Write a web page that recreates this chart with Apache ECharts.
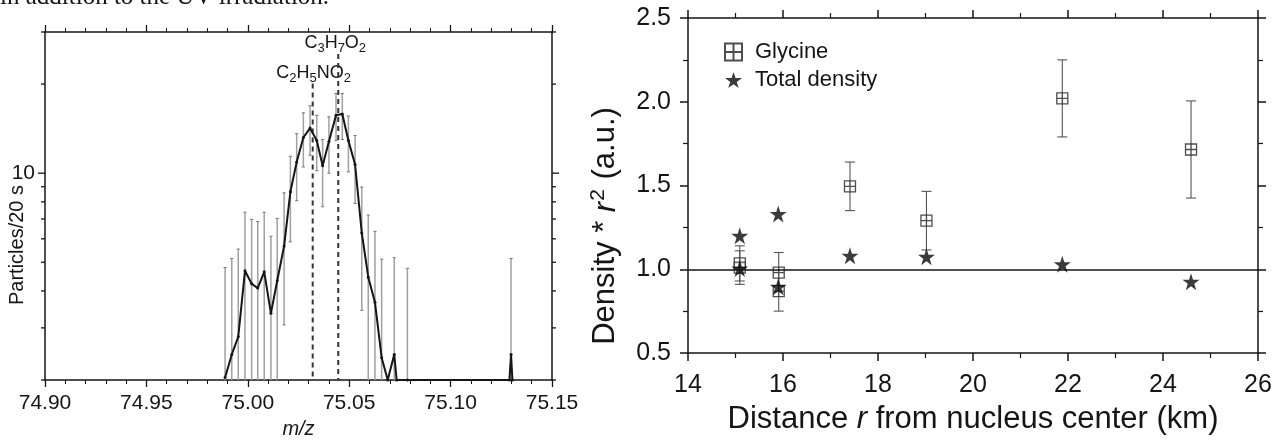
<!DOCTYPE html>
<html><head><meta charset="utf-8">
<script src="https://cdn.jsdelivr.net/npm/echarts@6/dist/echarts.min.js"></script>
<style>html,body{margin:0;padding:0;background:#fff}#c{width:1285px;height:444px}</style>
</head><body><div id="c"></div>
<script>
// ---------- Left panel: mass spectrum around m/z 75 ----------
const mzValues = [74.9888, 74.9921, 74.9953, 74.9986, 75.0019, 75.0049, 75.0081, 75.0114, 75.0145, 75.0179,
  75.0210, 75.0241, 75.0274, 75.0307, 75.0340, 75.0369, 75.0400, 75.0435, 75.0466, 75.0496,
  75.0529, 75.0562, 75.0594, 75.0627, 75.0660, 75.0690, 75.0722, 75.0734, 75.0787, 75.1290, 75.1298, 75.1305];
const counts = [2.04, 2.44, 2.80, 4.68, 4.23, 4.09, 4.64, 3.36, 4.33, 5.67,
  8.65, 10.9, 13.2, 14.2, 12.9, 10.6, 12.8, 15.7, 15.85, 12.9,
  10.7, 6.28, 4.45, 3.66, 2.38, 2.0, 2.44, 2.0, 2.0, 2.0, 2.44, 2.0];
const errLow = [2, 2, 2, 2, 2, 2, 2, 2, 2, 3.07,
  5.86, 8.07, 10.5, 11.5, 10.2, 7.7, 10.0, 12.9, 13.0, 10.1,
  7.9, 3.44, 2, 2, 2, null, 2, null, 2, null, 2, null];
const errHigh = [4.80, 5.15, 5.54, 7.38, 6.98, 6.87, 7.38, 6.12, 7.03, 8.58,
  11.4, 13.6, 16.0, 16.9, 15.7, 13.0, 15.5, 18.6, 18.6, 15.6,
  13.4, 8.98, 7.22, 6.36, 5.12, null, 5.18, null, 4.77, null, 5.15, null];
const refMasses = [75.0320, 75.0446];
const refTops = [20.1, 25.3];
const refLabels = ['C{s|2}H{s|5}NO{s|2}', 'C{s|3}H{s|7}O{s|2}'];
const logTickValues = [2, 3, 4, 5, 6, 7, 8, 9, 10, 20, 30];

// ---------- Right panel: density * r^2 vs distance ----------
const glyDistance = [15.09, 15.09, 15.91, 15.91, 17.41, 19.02, 21.88, 24.59];
const glycine = [1.035, 1.01, 0.98, 0.87, 1.495, 1.29, 2.02, 1.715];
const glycineErr = [0.105, 0.10, 0.12, 0.12, 0.145, 0.175, 0.23, 0.29];
const totDistance = [15.09, 15.09, 15.90, 15.90, 17.41, 19.02, 21.88, 24.59];
const totalDensity = [1.20, 1.005, 1.33, 0.895, 1.08, 1.075, 1.03, 0.925];

const ink = '#151515';
const FONT = 'Liberation Sans';
const axLine = {show: true, onZero: false, lineStyle: {color: ink, width: 1.5}};
const starPath = 'path://M0,-100L22.5,-30.9L95.1,-30.9L36.3,11.8L58.8,80.9L0,38.2L-58.8,80.9L-36.3,11.8L-95.1,-30.9L-22.5,-30.9Z';
const boxPath = 'path://M0,0L20,0L20,20L0,20Z M10,0L10,20 M0,10L20,10';

function leftX(pos, showLabel) {
  return {
    gridIndex: 0, type: 'value', position: pos, min: 74.90, max: 75.15, interval: 0.05,
    axisLine: axLine, splitLine: {show: false},
    axisTick: {show: true, length: 7, lineStyle: {color: ink, width: 1.3}},
    minorTick: {show: true, splitNumber: 5, length: 4, lineStyle: {color: ink, width: 1}},
    axisLabel: {show: showLabel, formatter: v => v.toFixed(2), fontSize: 21, color: ink, fontFamily: FONT, margin: 13},
    name: showLabel ? 'm/z' : '', nameLocation: 'middle', nameGap: 39,
    nameTextStyle: {fontSize: 20, fontStyle: 'italic', color: ink, fontFamily: FONT}
  };
}
function leftY(pos, showLabel) {
  return {
    gridIndex: 0, type: 'log', logBase: 10, position: pos, min: 2, max: 30,
    axisLine: axLine, splitLine: {show: false}, axisTick: {show: false}, minorTick: {show: false},
    axisLabel: {show: showLabel, formatter: v => (Math.abs(v - 10) < 1e-6 ? '10' : ''), fontSize: 21, color: ink, fontFamily: FONT, margin: 10}
  };
}
function rightX(pos, showLabel) {
  return {
    gridIndex: 1, type: 'value', position: pos, min: 14, max: 26, interval: 2,
    axisLine: axLine, splitLine: {show: false},
    axisTick: {show: true, length: 8, lineStyle: {color: ink, width: 1.5}},
    minorTick: {show: true, splitNumber: 2, length: 5, lineStyle: {color: ink, width: 1.2}},
    axisLabel: {show: showLabel, fontSize: 25, color: ink, fontFamily: FONT, margin: 20},
    name: showLabel ? 'Distance {i|r} from nucleus center (km)' : '', nameLocation: 'middle', nameGap: 51,
    nameTextStyle: {fontSize: 31, color: ink, fontFamily: FONT,
      rich: {i: {fontSize: 31, fontStyle: 'italic', color: ink, fontFamily: FONT}}}
  };
}
function rightY(pos, showLabel) {
  return {
    gridIndex: 1, type: 'value', position: pos, min: 0.5, max: 2.5, interval: 0.5,
    axisLine: axLine, splitLine: {show: false},
    axisTick: {show: true, length: 8, lineStyle: {color: ink, width: 1.5}},
    minorTick: {show: true, splitNumber: 2, length: 5, lineStyle: {color: ink, width: 1.2}},
    axisLabel: {show: showLabel, formatter: v => v.toFixed(1), fontSize: 25, color: ink, fontFamily: FONT, margin: 17}
  };
}

const chart = echarts.init(document.getElementById('c'));
chart.setOption({
  animation: false,
  backgroundColor: '#fff',
  textStyle: {fontFamily: FONT},
  grid: [
    {left: 45, top: 32, width: 507, height: 354},
    {left: 688, top: 18, width: 570, height: 335}
  ],
  xAxis: [leftX('bottom', true), leftX('top', false), rightX('bottom', true), rightX('top', false)],
  yAxis: [leftY('left', true), leftY('right', false), rightY('left', true), rightY('right', false)],
  legend: {
    orient: 'vertical', left: 719, top: 36, itemWidth: 17, itemHeight: 17, itemGap: 6,
    textStyle: {fontSize: 22, color: ink, fontFamily: FONT, padding: [0, 0, 0, 8]},
    data: ['Glycine', 'Total density']
  },
  graphic: [
    {type: 'text', x: 0, y: 10, style: {text: 'in addition to the UV irradiation.', fontSize: 25, fontFamily: 'Liberation Serif', fill: ink, verticalAlign: 'bottom'}},
    {type: 'text', x: 17, y: 245, rotation: Math.PI / 2, style: {text: 'Particles/20 s', fontSize: 20, fontFamily: FONT, fill: ink, align: 'center', verticalAlign: 'middle'}},
    {type: 'text', x: 605, y: 226, rotation: Math.PI / 2, style: {
      text: 'Density * {i|r}{sup|2} (a.u.)', fontSize: 31, fontFamily: FONT, fill: ink, align: 'center', verticalAlign: 'middle',
      rich: {
        i: {fontSize: 31, fontStyle: 'italic', fontFamily: FONT, fill: ink, verticalAlign: 'bottom'},
        sup: {fontSize: 21, fontFamily: FONT, fill: ink, verticalAlign: 'bottom', padding: [0, 1, 13, 1]}
      }}}
  ],
  series: [
    // gray error bars of the spectrum
    {
      type: 'custom', xAxisIndex: 0, yAxisIndex: 0, z: 2, silent: true,
      data: mzValues.map((m, i) => [m, errLow[i], errHigh[i]]).filter(d => d[2] != null),
      encode: {x: 0, y: [1, 2]},
      renderItem: (params, api) => {
        const x = api.value(0), lo = Math.max(api.value(1), 2), hi = api.value(2);
        const pl = api.coord([x, lo]), ph = api.coord([x, hi]);
        const ch = [
          {type: 'line', shape: {x1: pl[0], y1: pl[1], x2: ph[0], y2: ph[1]}, style: {stroke: '#a0a0a0', lineWidth: 1.5}},
          {type: 'line', shape: {x1: ph[0] - 1.6, y1: ph[1], x2: ph[0] + 1.6, y2: ph[1]}, style: {stroke: '#777', lineWidth: 1}}
        ];
        if (api.value(1) > 2) ch.push({type: 'line', shape: {x1: pl[0] - 1.6, y1: pl[1], x2: pl[0] + 1.6, y2: pl[1]}, style: {stroke: '#777', lineWidth: 1}});
        return {type: 'group', children: ch};
      }
    },
    // spectrum line
    {
      type: 'line', xAxisIndex: 0, yAxisIndex: 0, z: 4, clip: true,
      data: mzValues.map((m, i) => [m, counts[i]]),
      lineStyle: {color: ink, width: 2}, itemStyle: {color: ink},
      symbol: 'circle', symbolSize: 3, showSymbol: true
    },
    // dashed reference lines with formulas
    {
      type: 'custom', xAxisIndex: 0, yAxisIndex: 0, z: 3, silent: true,
      data: refMasses.map((m, i) => [m, refTops[i], i]),
      encode: {x: 0, y: 1},
      renderItem: (params, api) => {
        const m = api.value(0), top = api.value(1), idx = api.value(2);
        const pt = api.coord([m, top]), pb = api.coord([m, 2]);
        return {type: 'group', children: [
          {type: 'line', shape: {x1: pt[0], y1: pt[1], x2: pb[0], y2: pb[1]}, style: {stroke: '#333', lineWidth: 2, lineDash: [5, 4]}},
          {type: 'text', x: pt[0] + (idx === 0 ? 1 : -3), y: pt[1] + 1, style: {
            text: refLabels[idx], align: 'center', verticalAlign: 'bottom', fill: ink, fontSize: 18, fontFamily: FONT,
            rich: {s: {fontSize: 13, fontFamily: FONT, fill: ink, padding: [10, 0, 0, 0]}}
          }}
        ]};
      }
    },
    // minor/major ticks of the logarithmic count axis (both sides)
    {
      type: 'custom', xAxisIndex: 0, yAxisIndex: 0, z: 5, silent: true,
      data: logTickValues.map(v => [75.15, v]),
      encode: {x: 0, y: 1},
      renderItem: (params, api) => {
        const v = api.value(1);
        const pl = api.coord([74.90, v]), pr = api.coord([75.15, v]);
        const len = Math.abs(v - 10) < 1e-6 ? 7 : 4;
        return {type: 'group', children: [
          {type: 'line', shape: {x1: pl[0] - len, y1: pl[1], x2: pl[0], y2: pl[1]}, style: {stroke: ink, lineWidth: 1.3}},
          {type: 'line', shape: {x1: pr[0], y1: pr[1], x2: pr[0] + len, y2: pr[1]}, style: {stroke: ink, lineWidth: 1.3}}
        ]};
      }
    },
    // glycine error bars
    {
      type: 'custom', xAxisIndex: 2, yAxisIndex: 2, z: 2, silent: true,
      data: glyDistance.map((d, i) => [d, glycine[i] - glycineErr[i], glycine[i] + glycineErr[i]]),
      encode: {x: 0, y: [1, 2]},
      renderItem: (params, api) => {
        const x = api.value(0);
        const pl = api.coord([x, api.value(1)]), ph = api.coord([x, api.value(2)]);
        const st = {stroke: '#555', lineWidth: 1.1};
        return {type: 'group', children: [
          {type: 'line', shape: {x1: pl[0], y1: pl[1], x2: ph[0], y2: ph[1]}, style: st},
          {type: 'line', shape: {x1: ph[0] - 5, y1: ph[1], x2: ph[0] + 5, y2: ph[1]}, style: st},
          {type: 'line', shape: {x1: pl[0] - 5, y1: pl[1], x2: pl[0] + 5, y2: pl[1]}, style: st}
        ]};
      }
    },
    {
      name: 'Glycine', type: 'scatter', xAxisIndex: 2, yAxisIndex: 2, z: 3,
      data: glyDistance.map((d, i) => [d, glycine[i]]),
      symbol: boxPath, symbolSize: 11,
      itemStyle: {color: '#fff', borderColor: '#222', borderWidth: 1.3},
      markLine: {
        silent: true, symbol: 'none', label: {show: false},
        lineStyle: {color: ink, width: 1.5, type: 'solid'},
        data: [{yAxis: 1}]
      }
    },
    {
      name: 'Total density', type: 'scatter', xAxisIndex: 2, yAxisIndex: 2, z: 4,
      data: totDistance.map((d, i) => [d, totalDensity[i]]),
      symbol: starPath, symbolSize: 17,
      itemStyle: {color: '#0a0a0a'}
    }
  ]
});
</script></body></html>
